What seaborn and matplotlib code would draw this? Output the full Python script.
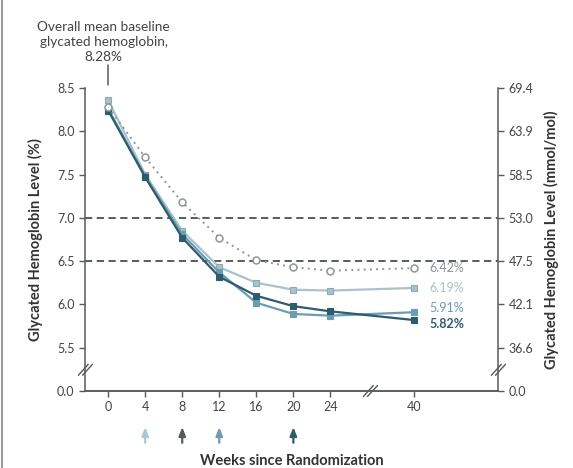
import numpy as np
import pandas as pd
import matplotlib
matplotlib.use("Agg")
import matplotlib.pyplot as plt
from matplotlib.transforms import blended_transform_factory
import seaborn as sns

# Study visits (weeks since randomization)
weeks = [0, 4, 8, 12, 16, 20, 24, 40]

# Mean glycated hemoglobin (%) per group at each visit
grp_a = [8.28, 7.70, 7.18, 6.77, 6.51, 6.43, 6.39, 6.42]
grp_b = [8.36, 7.50, 6.85, 6.43, 6.25, 6.17, 6.16, 6.19]
grp_c = [8.26, 7.48, 6.81, 6.37, 6.02, 5.89, 5.87, 5.91]
grp_d = [8.24, 7.47, 6.77, 6.32, 6.10, 5.98, 5.92, 5.82]

end_labels = ["6.42%", "6.19%", "5.91%", "5.82%"]

# Left axis ticks (%) and matching right axis ticks (mmol/mol)
pct_ticks = ["0.0", "5.5", "6.0", "6.5", "7.0", "7.5", "8.0", "8.5"]
mmol_ticks = ["0.0", "36.6", "42.1", "47.5", "53.0", "58.5", "63.9", "69.4"]
targets = [7.0, 6.5]

baseline = 8.28
arrow_weeks = [4, 8, 12, 20]

col_a = "#8e969b"
col_b = "#a9c2cb"
col_c = "#6b9db2"
col_d = "#2f5b6f"
arrow_cols = ["#a9c8d8", "#555a5e", "#6b9db2", "#2f5b6f"]


def week_pos(w):
    # weeks beyond 24 sit after the axis break
    return w if w <= 24 else 33


def pct_pos(v):
    # the zero tick sits one step below 5.5 across the break
    return v if v > 0 else 5.0


sns.set_style("ticks")
plt.rcParams["font.family"] = ["Lato", "DejaVu Sans"]

fig = plt.figure(figsize=(5.73, 4.68), dpi=100)
ax = fig.add_axes([85 / 573, 1 - 391 / 468, (498 - 85) / 573, (391 - 88) / 468])

xpos = [week_pos(w) for w in weeks]
df = pd.DataFrame({
    "pos": xpos * 4,
    "val": grp_a + grp_b + grp_c + grp_d,
    "grp": ["A"] * 8 + ["B"] * 8 + ["C"] * 8 + ["D"] * 8,
})

styles = {
    "A": dict(color=col_a, linestyle=(0, (1, 2.2)), marker="o", mfc="white",
              mec=col_a, ms=5, mew=1.1, lw=1.4),
    "B": dict(color=col_b, linestyle="-", marker="s", mfc=col_b, mec="#8fa9b3",
              ms=5, mew=0.8, lw=1.6),
    "C": dict(color=col_c, linestyle="-", marker="s", mfc=col_c, mec=col_c,
              ms=4, mew=0.8, lw=1.6),
    "D": dict(color=col_d, linestyle="-", marker="s", mfc=col_d, mec=col_d,
              ms=4, mew=0.8, lw=1.6),
}
for g in ["B", "C", "D", "A"]:
    sub = df[df["grp"] == g]
    st = styles[g]
    sns.lineplot(data=sub, x="pos", y="val", ax=ax, color=st["color"],
                 linestyle=st["linestyle"], marker=st["marker"],
                 markerfacecolor=st["mfc"], markeredgecolor=st["mec"],
                 markersize=st["ms"], markeredgewidth=st["mew"],
                 linewidth=st["lw"], zorder=3)

# target reference lines
for t in targets:
    ax.axhline(t, color="#4a4f53", linestyle=(0, (4, 2.5)), lw=1.3, zorder=2)

ax.set_xlim(-2.5, 42.1)
ax.set_ylim(5.0, 8.5)
ax.set_xticks(xpos)
ax.set_xticklabels([str(w) for w in weeks])
ypos = [pct_pos(float(t)) for t in pct_ticks]
ax.set_yticks(ypos)
ax.set_yticklabels(pct_ticks)

ax.set_xlabel("Weeks since Randomization", fontsize=10.5, fontweight="bold",
              color="#333333", labelpad=29)
ax.set_ylabel("Glycated Hemoglobin Level (%)", fontsize=10.5, fontweight="bold",
              color="#333333", labelpad=10)

ax2 = ax.twinx()
ax2.set_ylim(ax.get_ylim())
ax2.set_yticks(ypos)
ax2.set_yticklabels(mmol_ticks)
ax2.set_ylabel("Glycated Hemoglobin Level (mmol/mol)", fontsize=10.5,
               fontweight="bold", color="#333333", labelpad=8)

for a in (ax, ax2):
    for s in a.spines.values():
        s.set_color("#555a5e")
        s.set_linewidth(1.1)
    a.spines["top"].set_visible(False)
    a.tick_params(colors="#555a5e", labelcolor="#444444", labelsize=9,
                  length=4, width=1.0)
ax2.spines["left"].set_visible(False)
ax.spines["right"].set_visible(False)

# axis break marks
def slash(axis, x, y, transform):
    for dx in (-0.004, 0.006):
        axis.plot([x + dx - 0.012, x + dx + 0.012], [y - 0.018, y + 0.018],
                  transform=transform, color="#555a5e", lw=1.0, clip_on=False)

slash(ax, 0.0, 0.07, ax.transAxes)
slash(ax, 1.0, 0.07, ax.transAxes)
bx = (370 - 85) / (498 - 85)
slash(ax, bx, 0.0, ax.transAxes)

# end-of-study values
label_y = [6.42, 6.19, 5.96, 5.77]
label_cols = [col_a, col_b, col_c, col_d]
label_wts = ["normal", "normal", "normal", "bold"]
for txt, yv, c, wt in zip(end_labels, label_y, label_cols, label_wts):
    ax.text(week_pos(40) + 1.7, yv, txt, color=c, fontsize=9, va="center",
            ha="left", fontweight=wt)

# baseline annotation
ax.text(week_pos(0) - 0.5, 8.79, "Overall mean baseline\nglycated hemoglobin,\n8.28%",
        ha="center", va="bottom", fontsize=9.8, color="#444444", linespacing=1.3,
        clip_on=False)
ax.plot([0, 0], [8.53, 8.76], color="#555a5e", lw=1.1, clip_on=False)

# dose-escalation arrows
tr = blended_transform_factory(ax.transData, ax.transAxes)
for w, c in zip(arrow_weeks, arrow_cols):
    ax.annotate("", xy=(week_pos(w), -0.11), xytext=(week_pos(w), -0.18),
                xycoords=tr, textcoords=tr,
                arrowprops=dict(arrowstyle="-|>,head_length=0.5,head_width=0.2",
                                color=c, lw=1.6), annotation_clip=False)

# left frame line
fig.add_artist(plt.Line2D([2 / 573, 2 / 573], [0, 1], color="#9a9a9a", lw=1.5,
                          transform=fig.transFigure))

fig.savefig("out.png", dpi=100)
